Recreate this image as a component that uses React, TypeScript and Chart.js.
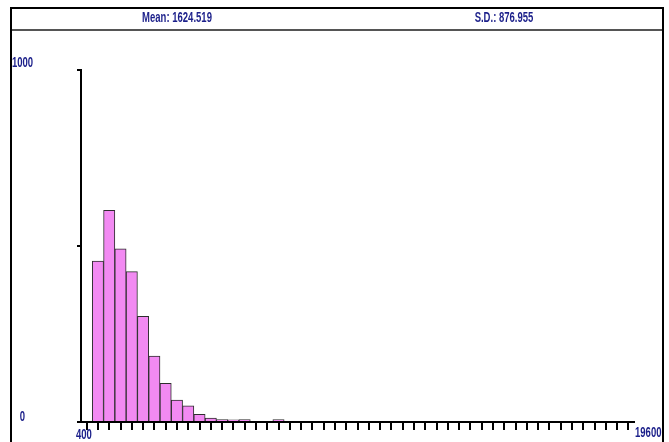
import React, { useEffect, useRef } from "react";
import { Chart, registerables } from "chart.js";

Chart.register(...registerables);

// ---- data ----
const BIN_WIDTH = 400;
const X_MIN = 0;
const X_MAX = 19600;
const Y_MAX = 1000;
const Y_STEP = 500;

const binStarts = [
  400, 800, 1200, 1600, 2000, 2400, 2800, 3200, 3600, 4000, 4400, 4800,
  5200, 5600, 6000, 6400, 6800, 7200, 7600, 8000, 8400, 8800, 9200, 9600,
  10000, 10400, 10800, 11200, 11600, 12000, 12400, 12800, 13200, 13600, 14000, 14400,
  14800, 15200, 15600, 16000, 16400, 16800, 17200, 17600, 18000, 18400, 18800, 19200,
];

const counts = [
  457, 601, 492, 427, 300, 187, 110, 62, 46, 22, 11, 7,
  6, 7, 0, 0, 7, 0, 0, 0, 0, 0, 0, 0,
  0, 0, 0, 0, 0, 0, 0, 0, 0, 0, 0, 0,
  0, 0, 0, 0, 0, 0, 0, 0, 0, 0, 0, 0,
];

const xEndLabels = ["400", "19600"];
const xEndValues = [400, 19600];
const yEndLabels = ["0", "1000"];
const yEndValues = [0, 1000];

const meanText = "Mean: 1624.519";
const sdText = "S.D.: 876.955";

// ---- styles ----
const TEXT_COLOR = "#1b1f8a";
const FONT_FAMILY = "'Liberation Sans', Arial, sans-serif";
const SQUEEZE = 0.68;
const BAR_FILL = "#f28af2";
const BAR_BORDER = "#2e2e2e";

function squeezedText(ctx: any, text: string, px: number, py: number, align: "left" | "right" | "center") {
  ctx.save();
  ctx.translate(px, py);
  ctx.scale(SQUEEZE, 1);
  ctx.textAlign = align;
  ctx.fillText(text, 0, 0);
  ctx.restore();
}

const edgeLabels = {
  id: "edgeLabels",
  afterDraw(chart: any) {
    const { ctx } = chart;
    const x = chart.scales.x;
    const y = chart.scales.y;
    ctx.save();
    ctx.fillStyle = TEXT_COLOR;
    ctx.font = `bold 14px ${FONT_FAMILY}`;
    ctx.textBaseline = "middle";
    squeezedText(ctx, yEndLabels[1], 22.5, y.getPixelForValue(yEndValues[1]) - 7, "center");
    squeezedText(ctx, yEndLabels[0], 22.5, y.getPixelForValue(yEndValues[0]) - 5, "center");
    squeezedText(ctx, xEndLabels[0], x.getPixelForValue(xEndValues[0]) - 0.5, y.bottom + 13, "right");
    squeezedText(ctx, xEndLabels[1], x.getPixelForValue(xEndValues[1]) + 1, y.bottom + 11, "left");
    ctx.restore();
  },
};

export default function App() {
  const canvasRef = useRef<HTMLCanvasElement | null>(null);

  useEffect(() => {
    if (!canvasRef.current) return;
    const data = counts.map((c, i) => ({ x: binStarts[i] + BIN_WIDTH / 2, y: c }));
    const chart = new Chart(canvasRef.current, {
      type: "bar",
      data: {
        datasets: [
          {
            data: data as any,
            backgroundColor: BAR_FILL,
            borderColor: BAR_BORDER,
            borderWidth: 1,
            barPercentage: 1,
            categoryPercentage: 1,
          },
        ],
      },
      options: {
        animation: false,
        responsive: false,
        maintainAspectRatio: false,
        layout: { padding: { top: 70, right: 35, bottom: 0, left: 0 } },
        plugins: { legend: { display: false }, tooltip: { enabled: false } },
        scales: {
          x: {
            type: "linear",
            min: X_MIN,
            max: X_MAX,
            offset: false,
            ticks: { display: false, stepSize: BIN_WIDTH },
            afterBuildTicks: (s: any) => {
              s.ticks = s.ticks.filter((t: any) => t.value >= binStarts[0]);
            },
            afterFit: (s: any) => {
              s.height = 20;
            },
            grid: {
              drawOnChartArea: false,
              drawTicks: true,
              tickLength: 8,
              color: "#000",
              lineWidth: 2,
            },
            border: { display: true, color: "#000", width: 2 },
          },
          y: {
            min: 0,
            max: Y_MAX,
            ticks: { display: false, stepSize: Y_STEP },
            afterFit: (s: any) => {
              s.width = 81;
            },
            grid: {
              drawOnChartArea: false,
              drawTicks: true,
              tickLength: 4,
              color: "#000",
              lineWidth: 2,
            },
            border: { display: true, color: "#000", width: 2 },
          },
        },
      },
      plugins: [edgeLabels],
    });
    return () => chart.destroy();
  }, []);

  const headerText: React.CSSProperties = {
    position: "absolute",
    top: 7,
    height: 20,
    lineHeight: "20px",
    transform: `translateX(-50%) scaleX(${SQUEEZE})`,
    whiteSpace: "nowrap",
    color: TEXT_COLOR,
    fontFamily: FONT_FAMILY,
    fontWeight: "bold",
    fontSize: 14,
  };

  return (
    <div
      style={{
        position: "fixed",
        left: 0,
        top: 0,
        width: 669,
        height: 442,
        background: "#fff",
        overflow: "hidden",
      }}
    >
      <canvas
        ref={canvasRef}
        width={669}
        height={442}
        style={{ position: "absolute", left: 0, top: 0 }}
      />
      <div
        style={{
          position: "absolute",
          left: 10,
          top: 7,
          width: 654,
          height: 470,
          boxSizing: "border-box",
          border: "2px solid #000",
          borderBottom: "none",
          pointerEvents: "none",
        }}
      />
      <div
        style={{
          position: "absolute",
          left: 12,
          top: 29,
          width: 650,
          height: 2,
          background: "#555",
        }}
      />
      <div style={{ ...headerText, left: 177 }}>{meanText}</div>
      <div style={{ ...headerText, left: 504 }}>{sdText}</div>
    </div>
  );
}
